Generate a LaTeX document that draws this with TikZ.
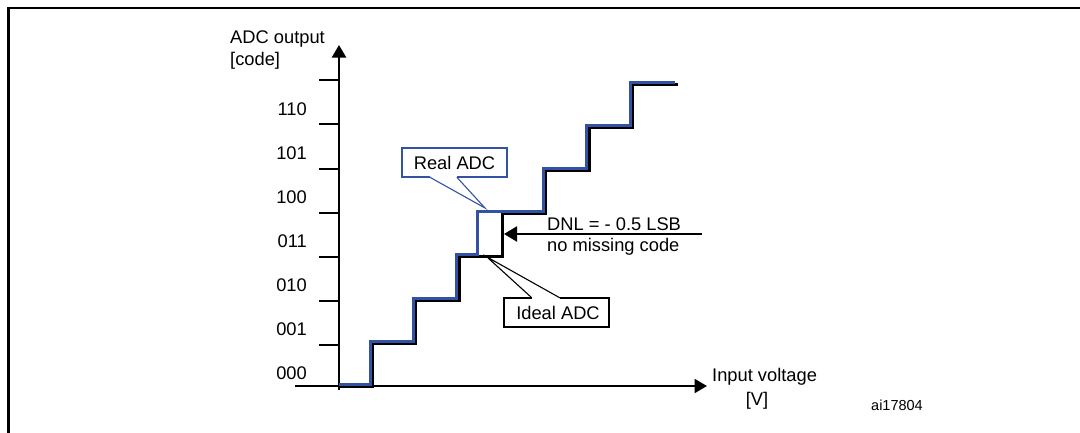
\documentclass[tikz,border=0pt]{standalone}
\usepackage{fontspec}
\setmainfont{Liberation Sans}
\usetikzlibrary{arrows.meta}
\definecolor{realblue}{RGB}{52,82,164}
\begin{document}
\begin{tikzpicture}[x=1pt,y=-1pt,
  lbl/.style={font=\fontsize{18.3}{22}\selectfont, inner sep=0pt, text=black},
  smalllbl/.style={font=\fontsize{14.5}{17}\selectfont, inner sep=0pt, text=black},
  axisline/.style={line width=2.3pt, -{Triangle[length=12.5pt,width=14pt]}},
  tickline/.style={line width=2pt},
  idealstair/.style={line width=3pt, black, line join=miter},
  realstair/.style={line width=3pt, realblue, line join=miter},
  calloutbox/.style={line width=1.8pt, line join=miter},
  calloutptr/.style={line width=1.1pt},
  boxnode/.style={lbl, minimum width=105pt, minimum height=29pt}
]
\useasboundingbox (0,0) rectangle (1080,432);

% frame
\coordinate (fTR) at (1085,8);
\coordinate (fTL) at (8.5,8);
\coordinate (fBL) at (8.5,437);
\draw[line width=2.5pt] (fTR) -- (fTL) -- (fBL);

% axes
\coordinate (ybot) at (339,390);
\coordinate (ytop) at (339,45);
\coordinate (xleft) at (295,386);
\coordinate (xright) at (707,386);
\draw[axisline] (ybot) -- (ytop);
\draw[axisline] (xleft) -- (xright);

% ticks
\foreach \yy [count=\i] in {345,301,257,213,169,124,80} {
  \coordinate (tl\i) at (319,\yy);
  \coordinate (tr\i) at (339,\yy);
  \draw[tickline] (tl\i) -- (tr\i);
}

% y labels
\node[lbl, anchor=base east] (c000) at (307,379) {000};
\node[lbl, anchor=base east] (c001) at (307,335) {001};
\node[lbl, anchor=base east] (c010) at (307,291.5) {010};
\node[lbl, anchor=base east] (c011) at (307,247) {011};
\node[lbl, anchor=base east] (c100) at (307,203) {100};
\node[lbl, anchor=base east] (c101) at (307,159) {101};
\node[lbl, anchor=base east] (c110) at (307,115) {110};

% axis titles
\node[lbl, anchor=base west] (ytitle1) at (230,43.3) {ADC output};
\node[lbl, anchor=base west] (ytitle2) at (230,65) {[code]};
\node[lbl, anchor=base west] (xtitle1) at (712,381.7) {Input voltage};
\node[lbl, anchor=base] (xtitle2) at (757,405) {[V]};
\node[smalllbl, anchor=base west] (ref) at (871,410) {ai17804};

% ideal staircase (black)
\draw[idealstair] (339,386) -| (372.5,343) -| (415.8,300) -| (459.1,256.6)
  -| (502.5,213.5) -| (545.8,170.4) -| (589.1,127.3) -| (632.5,84.2) -- (678,84.2);
% real staircase (blue)
\draw[realstair] (339,384) -| (370,341) -| (413.3,298) -| (456.6,254.6)
  -| (477,211.5) -| (543.3,168.4) -| (586.6,125.3) -| (630,82.2) -- (675,82.2);

% Real ADC callout
\node[boxnode] (real) at (454.5,162.5) {Real ADC};
\coordinate (realtip) at (485,208);
\draw[calloutbox, realblue] ([xshift=28pt]real.south west) -- (real.south west) -- (real.north west)
  -- (real.north east) -- (real.south east) -- ([xshift=55pt]real.south west);
\draw[calloutptr, realblue] ([xshift=28pt]real.south west) -- (realtip) -- ([xshift=55pt]real.south west);

% Ideal ADC callout
\node[boxnode] (ideal) at (556.5,312.5) {\hspace*{3pt}Ideal ADC};
\coordinate (idealtip) at (487,257);
\draw[calloutbox, black] ([xshift=28pt]ideal.north west) -- (ideal.north west) -- (ideal.south west)
  -- (ideal.south east) -- (ideal.north east) -- ([xshift=56pt]ideal.north west);
\draw[calloutptr, black] ([xshift=28pt]ideal.north west) -- (idealtip) -- ([xshift=56pt]ideal.north west);

% DNL arrow and text
\coordinate (dnlstart) at (702,234);
\coordinate (dnltip) at (504,234);
\draw[line width=2pt, -{Triangle[length=13pt,width=15pt]}] (dnlstart) -- (dnltip);
\node[lbl, anchor=base west] (dnl1) at (547,230.7) {DNL = - 0.5 LSB};
\node[lbl, anchor=base west] (dnl2) at (547,251.7) {no missing code};
\end{tikzpicture}
\end{document}
